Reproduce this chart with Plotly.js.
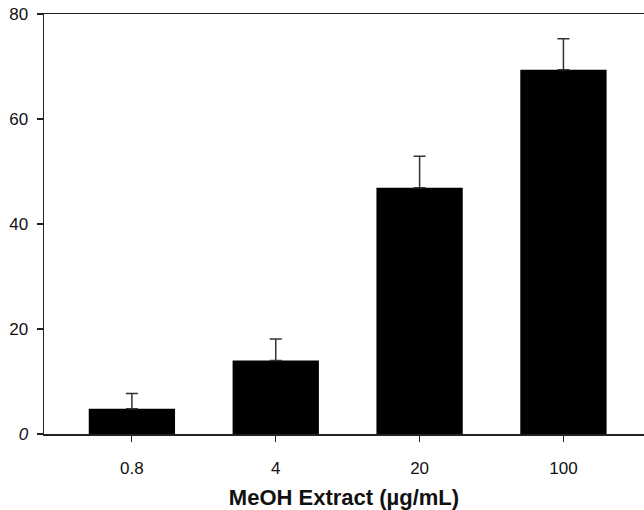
<!DOCTYPE html>
<html>
<head>
<meta charset="utf-8">
<script src="https://cdn.plot.ly/plotly-3.0.1.min.js"></script>
<style>html,body{margin:0;padding:0;background:#fff;}#chart{width:644px;height:510px;}</style>
</head>
<body>
<div id="chart"></div>
<script>
const categories = ["0.8", "4", "20", "100"];
const values = [4.8, 14.0, 46.9, 69.4];
const errors = [2.9, 4.1, 6.0, 5.9];
const yTickVals = [0, 20, 40, 60, 80];
const yTickText = ["<i>0</i>", "20", "40", "60", "80"];

const trace = {
  type: "bar",
  x: categories,
  y: values,
  width: 0.6,
  marker: {color: "#000000", line: {width: 0}},
  error_y: {
    type: "data",
    symmetric: false,
    array: errors,
    arrayminus: errors.map(() => 0),
    color: "#333333",
    thickness: 1.5,
    width: 6
  },
  hoverinfo: "none"
};

const layout = {
  width: 644,
  height: 510,
  margin: {l: 44, r: 0, t: 14, b: 76},
  paper_bgcolor: "#ffffff",
  plot_bgcolor: "#ffffff",
  showlegend: false,
  font: {family: "Liberation Sans, Arial, sans-serif", size: 17, color: "#111111"},
  xaxis: {
    type: "category",
    range: [-0.611, 3.56],
    showline: true,
    linecolor: "#222222",
    linewidth: 1.5,
    mirror: true,
    ticks: "outside",
    ticklen: 6,
    tickwidth: 1.2,
    tickcolor: "#222222",
    ticklabelstandoff: 12,
    showgrid: false,
    zeroline: false,
    tickfont: {size: 17},
    title: {text: "<b>MeOH Extract (µg/mL)</b>", font: {size: 22, color: "#111111"}, standoff: 14}
  },
  yaxis: {
    range: [0, 80],
    tickvals: yTickVals,
    ticktext: yTickText,
    showline: true,
    linecolor: "#222222",
    linewidth: 1.5,
    mirror: false,
    ticks: "outside",
    ticklen: 6,
    tickwidth: 1.2,
    tickcolor: "#222222",
    ticklabelstandoff: 5,
    showgrid: false,
    zeroline: false,
    tickfont: {size: 17}
  }
};

Plotly.newPlot("chart", [trace], layout, {displayModeBar: false, staticPlot: true});
</script>
</body>
</html>
